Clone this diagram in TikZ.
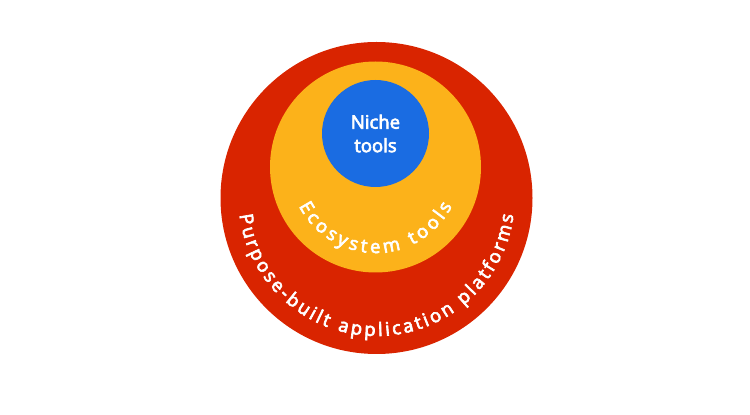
\documentclass[tikz,border=0pt]{standalone}
\usepackage{fontspec}
\setmainfont{Open Sans}[BoldFont={Open Sans}, BoldFeatures={FakeBold=3.5}]
\usetikzlibrary{decorations.text}
\definecolor{ringred}{RGB}{217,36,0}
\definecolor{ringyellow}{RGB}{252,178,26}
\definecolor{ringblue}{RGB}{26,108,226}
\newcommand{\ringfont}{\bfseries\fontsize{18.5}{22}\selectfont}

\begin{document}
\begin{tikzpicture}[x=1pt, y=1pt]
    \useasboundingbox (0,0) rectangle (750,415);

    \coordinate (R) at (376.5,217);
    \coordinate (Y) at (375.5,248);
    \coordinate (B) at (375.5,281.5);

    \fill[ringred] (R) circle (156);
    \fill[ringyellow] (Y) circle (105.5);
    \fill[ringblue] (B) circle (53.5);

    \node[white, align=center, font=\bfseries\fontsize{18.5}{23.5}\selectfont] (niche) at (B) {Niche\\tools};

    \path[decorate, decoration={text along path, text color=white,
        text align={fit to path}, text={|\ringfont|Ecosystem tools}}]
        ([shift={(207:86)}]Y) arc[start angle=207, end angle=333, radius=86];
    \path[decorate, decoration={text along path, text color=white,
        text align={fit to path}, text={|\ringfont|Purpose-built application platforms}}]
        ([shift={(187:138)}]R) arc[start angle=187, end angle=353, radius=138];
\end{tikzpicture}
\end{document}
